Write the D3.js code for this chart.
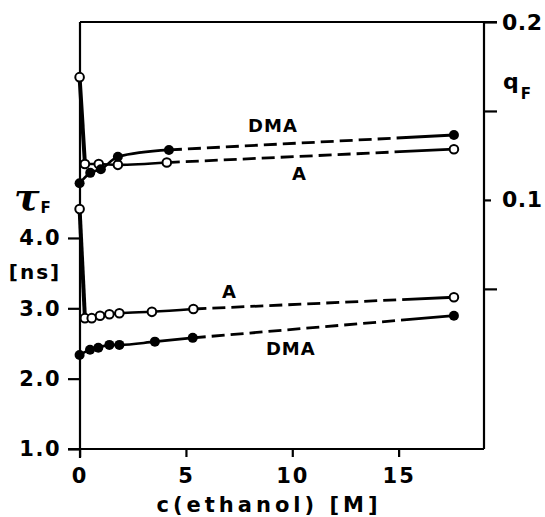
<!DOCTYPE html>
<html>
<head>
<meta charset="utf-8">
<script src="https://cdn.jsdelivr.net/npm/d3@7"></script>
<style>
  body { margin: 0; background: #fff; }
  text { font-family: "DejaVu Sans", sans-serif; font-weight: bold; fill: #000; }
</style>
</head>
<body>
<svg id="chart" width="545" height="517"></svg>
<script>
// Fluorescence lifetime (tau_F, left axis) and quantum yield (q_F, right axis)
// of A and DMA as a function of ethanol concentration.

const cTicks = [0, 5, 10, 15];
const tauTicks = [1.0, 2.0, 3.0, 4.0];
const qTicks = [0.05, 0.1, 0.15, 0.2];
const qLabelTicks = [0.1, 0.2];

// quantum yield q_F
const qA_c   = [0, 0.25, 0.9, 1.8, 4.1, 17.6];
const qA     = [0.169, 0.1202, 0.1202, 0.1197, 0.121, 0.1285];
const qDMA_c = [0, 0.5, 1.0, 1.8, 4.2, 17.6];
const qDMA   = [0.1094, 0.1152, 0.1172, 0.1243, 0.1281, 0.1365];

// lifetime tau_F [ns]
const tauA_c   = [0, 0.25, 0.57, 0.96, 1.4, 1.87, 3.4, 5.35, 17.6];
const tauA     = [4.41, 2.86, 2.86, 2.895, 2.915, 2.93, 2.95, 2.99, 3.157];
const tauDMA_c = [0, 0.49, 0.88, 1.4, 1.87, 3.54, 5.32, 17.6];
const tauDMA   = [2.337, 2.41, 2.44, 2.48, 2.48, 2.526, 2.58, 2.895];

const svg = d3.select("#chart");
const L = 80, R = 484, T = 22, B = 449;

const x = d3.scaleLinear().domain([0, 19]).range([79.6, 483.7]);
const yTau = d3.scaleLinear().domain([1, 7.07]).range([B, T]);
const yQ = d3.scaleLinear().domain([-0.04, 0.2]).range([B, T]);

const black = "#000";

// frame
const frame = svg.append("g").attr("fill", "none").attr("stroke", black).attr("stroke-width", 2.2);
frame.append("line").attr("x1", L).attr("x2", R + 13).attr("y1", T).attr("y2", T);
frame.append("line").attr("x1", L).attr("x2", L).attr("y1", T).attr("y2", B + 9);
frame.append("line").attr("x1", L - 12).attr("x2", R).attr("y1", B).attr("y2", B);
frame.append("line").attr("x1", R).attr("x2", R).attr("y1", T).attr("y2", B);

function styleAxis(g) {
  g.select(".domain").remove();
  g.selectAll(".tick line").attr("stroke", black).attr("stroke-width", 2.2);
  g.selectAll(".tick text")
    .attr("fill", black)
    .style("font-family", '"DejaVu Sans", sans-serif')
    .style("font-weight", "bold");
}

// left axis: tau_F
svg.append("g")
  .attr("transform", `translate(${L},0)`)
  .call(d3.axisLeft(yTau).tickValues(tauTicks).tickSize(12).tickPadding(7).tickFormat(d3.format(".1f")))
  .call(styleAxis)
  .call(g => g.selectAll(".tick text").style("font-size", "21px").attr("letter-spacing", "1.5px"));

// bottom axis: concentration
svg.append("g")
  .attr("transform", `translate(0,${B})`)
  .call(d3.axisBottom(x).tickValues(cTicks).tickSize(8).tickPadding(11).tickFormat(d3.format("d")))
  .call(styleAxis)
  .call(g => g.selectAll(".tick text").style("font-size", "21px").attr("letter-spacing", "2px"));

// right axis: q_F
svg.append("g")
  .attr("transform", `translate(${R},0)`)
  .call(d3.axisRight(yQ).tickValues(qTicks).tickSize(13).tickPadding(5)
    .tickFormat(d => qLabelTicks.includes(d) ? d3.format(".1f")(d) : ""))
  .call(styleAxis)
  .call(g => g.selectAll(".tick line").attr("x2", d => d === 0.1 ? 7 : 13))
  .call(g => g.selectAll(".tick text").style("font-size", "22px").attr("letter-spacing", "0.5px"));

// axis titles
svg.append("text").attr("x", 269).attr("y", 512).attr("text-anchor", "middle")
  .style("font-size", "21px").attr("letter-spacing", "4px").text("c(ethanol) [M]");

const tau = svg.append("text").attr("x", 14).attr("y", 210);
tau.append("tspan").style("font-family", '"DejaVu Serif", serif').style("font-style", "italic")
  .style("font-size", "38px").text("τ");
tau.append("tspan").attr("dy", 3).attr("dx", 1).style("font-size", "15px").text("F");

svg.append("text").attr("x", 35).attr("y", 279).attr("text-anchor", "middle")
  .style("font-size", "20px").attr("letter-spacing", "2px").text("[ns]");

const q = svg.append("text").attr("x", 503).attr("y", 89);
q.append("tspan").style("font-size", "22px").text("q");
q.append("tspan").attr("dy", 10).attr("dx", 2).style("font-size", "15px").text("F");

// series
const series = [
  { c: qA_c,     v: qA,     y: yQ,   filled: false, drop: true },
  { c: qDMA_c,   v: qDMA,   y: yQ,   filled: true,  drop: false },
  { c: tauA_c,   v: tauA,   y: yTau, filled: false, drop: true },
  { c: tauDMA_c, v: tauDMA, y: yTau, filled: true,  drop: false }
];

const curve = d3.line().curve(d3.curveMonotoneX);
const lines = svg.append("g").attr("fill", "none").attr("stroke", black).attr("stroke-linecap", "butt");

series.forEach(s => {
  const pts = s.c.map((c, i) => [x(c), s.y(s.v[i])]);
  const n = pts.length;
  // steep initial drop drawn heavy
  const start = s.drop ? 1 : 0;
  if (s.drop) {
    lines.append("path").attr("d", d3.line()([pts[0], pts[1]])).attr("stroke-width", 4);
  }
  // solid curve through the low-concentration points
  lines.append("path").attr("d", curve(pts.slice(start, n - 1))).attr("stroke-width", 2.6);
  // dashed connection to the neat-ethanol point, ending in a solid stub
  const far = lines.append("path").attr("d", d3.line()([pts[n - 2], pts[n - 1]])).attr("stroke-width", 2.8);
  const len = far.node().getTotalLength();
  const tail = 44;
  const dash = [];
  let pos = 0;
  while (pos + 19 <= len - tail) { dash.push(13, 6); pos += 19; }
  dash.push(len - pos + 2, 0);
  far.attr("stroke-dasharray", dash.join(" "));
});

// markers
series.forEach(s => {
  svg.append("g").selectAll("circle")
    .data(s.c.map((c, i) => ({ c, v: s.v[i] })))
    .join("circle")
    .attr("cx", d => x(d.c))
    .attr("cy", d => s.y(d.v))
    .attr("r", s.filled ? 5 : 4.3)
    .attr("fill", s.filled ? black : "#fff")
    .attr("stroke", black)
    .attr("stroke-width", s.filled ? 0 : 2);
});

// curve labels
const lab = svg.append("g").style("font-size", "18px").attr("letter-spacing", "1px");
lab.append("text").attr("x", x(7.92)).attr("y", yQ(0.1382)).text("DMA");
lab.append("text").attr("x", x(9.99)).attr("y", yQ(0.1112)).text("A");
lab.append("text").attr("x", x(6.69)).attr("y", yTau(3.146)).text("A");
lab.append("text").attr("x", x(8.76)).attr("y", yTau(2.336)).text("DMA");
</script>
</body>
</html>
